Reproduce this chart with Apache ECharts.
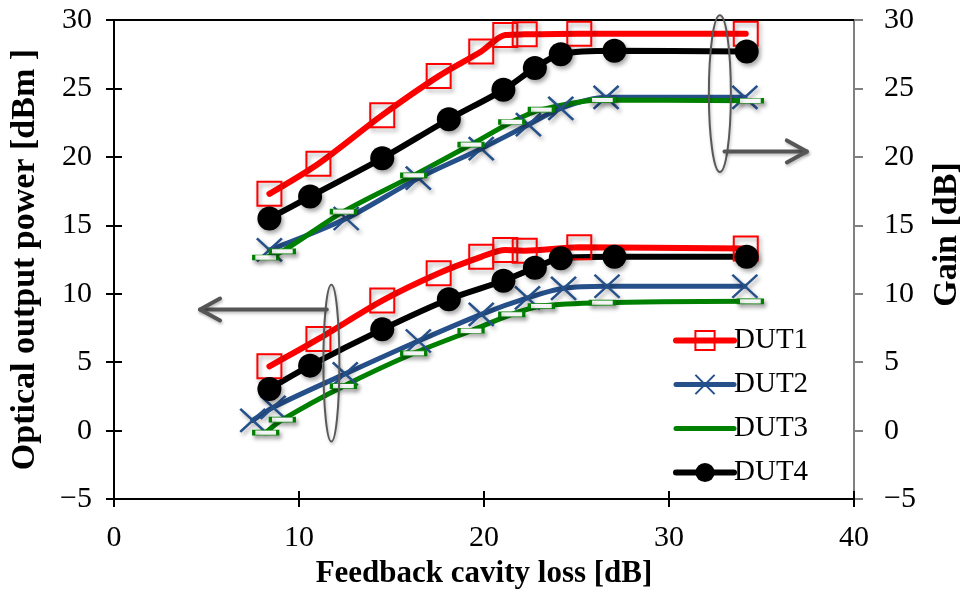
<!DOCTYPE html>
<html>
<head>
<meta charset="utf-8">
<script src="https://cdn.jsdelivr.net/npm/echarts@6/dist/echarts.min.js"></script>
<style>
  html, body { margin: 0; padding: 0; background: #ffffff; }
  #chart { width: 972px; height: 594px; }
</style>
</head>
<body>
<div id="chart"></div>
<script>
// Feedback cavity loss [dB] of each measurement, per device
const lossDUT1 = [8.4, 11.05, 14.5, 17.55, 19.85, 21.15, 22.2, 25.15, 34.15];
const lossDUT2Gain = [8.4, 12.55, 16.45, 19.85, 22.4, 24.15, 26.6, 34.1];
const lossDUT2Power = [7.5, 8.6, 12.5, 16.45, 19.85, 22.35, 24.3, 26.65, 34.1];
const lossDUT3 = [8.2, 9.1, 12.4, 16.2, 19.3, 21.5, 23.1, 26.4, 34.4];
const lossDUT4 = [8.4, 10.6, 14.5, 18.1, 21.05, 22.75, 24.15, 27.05, 34.2];

// Gain [dB], read on the right axis
const gainDUT1 = [17.3, 19.5, 23.05, 25.9, 27.7, 28.9, 28.95, 29.0, 29.0];
const gainDUT2 = [13.2, 15.5, 18.45, 20.6, 22.35, 23.55, 24.35, 24.35];
const gainDUT3 = [12.65, 13.1, 16.0, 18.65, 20.9, 22.55, 23.45, 24.15, 24.1];
const gainDUT4 = [15.5, 17.1, 19.9, 22.75, 24.9, 26.5, 27.5, 27.75, 27.7];

// Optical output power [dBm], read on the left axis
const powerDUT1 = [4.7, 6.7, 9.5, 11.5, 12.7, 13.2, 13.15, 13.4, 13.3];
const powerDUT2 = [0.75, 1.7, 4.15, 6.55, 8.5, 9.7, 10.4, 10.55, 10.55];
const powerDUT3 = [-0.15, 0.8, 3.25, 5.65, 7.3, 8.5, 9.1, 9.35, 9.45];
const powerDUT4 = [3.05, 4.75, 7.4, 9.6, 10.95, 11.9, 12.6, 12.7, 12.7];

const deviceNames = ['DUT1', 'DUT2', 'DUT3', 'DUT4'];

// Axis ranges
const xMin = 0, xMax = 40, xStep = 10;
const yMin = -5, yMax = 30, yStep = 5;

const SERIF = '"Liberation Serif", "Times New Roman", serif';
const pair = (xs, ys) => xs.map((x, i) => [x, ys[i]]);
const minusSign = v => String(v).replace('-', '\u2212');

const markerShadow = {
  shadowColor: 'rgba(0,0,0,0.35)', shadowBlur: 4, shadowOffsetX: 2, shadowOffsetY: 3
};

const looks = {
  DUT1: {
    color: '#FF0000', width: 6, symbol: 'rect', symbolSize: [24, 24],
    item: { color: 'rgba(255,255,255,0)', borderColor: '#FF0000', borderWidth: 2 }
  },
  DUT2: {
    color: '#25508A', width: 5, symbol: 'path://M0,0L24,22M24,0L0,22', symbolSize: [25, 23],
    item: { color: 'rgba(255,255,255,0)', borderColor: '#25508A', borderWidth: 2.5 }
  },
  DUT3: {
    color: '#008000', width: 5, symbol: 'rect', symbolSize: [24, 5],
    item: { color: '#ffffff', borderColor: '#008000', borderWidth: 1.5 }
  },
  DUT4: {
    color: '#000000', width: 6, symbol: 'circle', symbolSize: 24,
    item: { color: '#000000', borderWidth: 0 }
  }
};

function makeSeries(name, data, yAxisIndex) {
  const l = looks[name];
  return {
    name: name,
    type: 'line',
    xAxisIndex: 0,
    yAxisIndex: yAxisIndex,
    data: data,
    smooth: 0.3,
    color: l.color,
    symbol: l.symbol,
    symbolSize: l.symbolSize,
    showAllSymbol: true,
    lineStyle: { color: l.color, width: l.width, cap: 'round' },
    itemStyle: Object.assign({}, l.item, markerShadow),
    emphasis: { disabled: true },
    z: 3
  };
}

const series = [
  makeSeries('DUT1', pair(lossDUT1, gainDUT1), 1),
  makeSeries('DUT1', pair(lossDUT1, powerDUT1), 0),
  makeSeries('DUT2', pair(lossDUT2Gain, gainDUT2), 1),
  makeSeries('DUT2', pair(lossDUT2Power, powerDUT2), 0),
  makeSeries('DUT3', pair(lossDUT3, gainDUT3), 1),
  makeSeries('DUT3', pair(lossDUT3, powerDUT3), 0),
  makeSeries('DUT4', pair(lossDUT4, gainDUT4), 1),
  makeSeries('DUT4', pair(lossDUT4, powerDUT4), 0)
];

const labelStyle = { color: '#000', fontFamily: SERIF, fontSize: 30 };
const yTitleStyle = { color: '#000', fontFamily: SERIF, fontSize: 34, fontWeight: 'bold' };
const xTitleStyle = { color: '#000', fontFamily: SERIF, fontSize: 31, fontWeight: 'bold' };

const chart = echarts.init(document.getElementById('chart'), null, { renderer: 'canvas' });

chart.setOption({
  animation: false,
  backgroundColor: '#ffffff',
  grid: { left: 111, right: 111, top: 20, bottom: 91, containLabel: false },
  legend: {
    orient: 'vertical',
    left: 673,
    top: 326,
    itemWidth: 58,
    itemHeight: 24,
    itemGap: 15,
    padding: 0,
    selectedMode: false,
    lineStyle: { width: 'inherit' },
    textStyle: { color: '#000', fontFamily: SERIF, fontSize: 29, padding: [0, 0, 0, -5] },
    data: [
      { name: 'DUT1' },
      { name: 'DUT2' },
      { name: 'DUT3', itemStyle: { opacity: 0 } },
      { name: 'DUT4' }
    ]
  },
  xAxis: [
    {
      type: 'value', position: 'bottom', min: xMin, max: xMax, interval: xStep,
      name: 'Feedback cavity loss [dB]', nameLocation: 'middle', nameGap: 58,
      nameTextStyle: xTitleStyle,
      axisLine: { onZero: false, lineStyle: { color: '#000', width: 2 } },
      axisTick: { show: true, inside: false, length: 8, lineStyle: { color: '#000', width: 2 } },
      axisLabel: Object.assign({ margin: 24, formatter: minusSign }, labelStyle),
      splitLine: { show: false }
    },
    {
      type: 'value', position: 'bottom', min: xMin, max: xMax, interval: xStep,
      axisLine: { show: false, onZero: false },
      axisTick: { show: true, inside: true, length: 8, lineStyle: { color: '#000', width: 2 } },
      axisLabel: { show: false },
      splitLine: { show: false }
    },
    {
      type: 'value', position: 'top', min: xMin, max: xMax, interval: xStep,
      axisLine: { show: true, onZero: false, lineStyle: { color: '#000', width: 2 } },
      axisTick: { show: false },
      axisLabel: { show: false },
      splitLine: { show: false }
    }
  ],
  yAxis: [
    {
      type: 'value', position: 'left', min: yMin, max: yMax, interval: yStep,
      name: 'Optical output power [dBm ]', nameLocation: 'middle', nameGap: 72, nameRotate: 90,
      nameTextStyle: yTitleStyle,
      axisLine: { show: true, onZero: false, lineStyle: { color: '#000', width: 2 } },
      axisTick: { show: true, inside: false, length: 8, lineStyle: { color: '#000', width: 2 } },
      axisLabel: Object.assign({ margin: 22, formatter: minusSign }, labelStyle),
      splitLine: { show: false }
    },
    {
      type: 'value', position: 'right', min: yMin, max: yMax, interval: yStep,
      name: 'Gain [dB]', nameLocation: 'middle', nameGap: 76, nameRotate: 90,
      nameTextStyle: Object.assign({ padding: [0, 0, 0, 50] }, yTitleStyle),
      axisLine: { show: true, onZero: false, lineStyle: { color: '#808080', width: 2 } },
      axisTick: { show: true, inside: false, length: 9, lineStyle: { color: '#808080', width: 2 } },
      axisLabel: Object.assign({ margin: 30, formatter: minusSign }, labelStyle),
      splitLine: { show: false }
    },
    {
      type: 'value', position: 'left', min: yMin, max: yMax, interval: yStep,
      axisLine: { show: false, onZero: false },
      axisTick: { show: true, inside: true, length: 8, lineStyle: { color: '#000', width: 2 } },
      axisLabel: { show: false },
      splitLine: { show: false }
    }
  ],
  series: series
});

// Ellipses grouping each family of curves, with arrows pointing at the axis they belong to
const leftGroupMark = { x: 11.75, yLow: -0.8, yHigh: 10.65, rx: 8 };
const leftArrow = { y: 8.85, xFrom: 11.5, xTo: 4.65 };
const rightGroupMark = { x: 32.75, yLow: 18.9, yHigh: 30.35, rx: 11 };
const rightArrow = { y: 20.4, xFrom: 33.0, xTo: 37.45 };

function toPx(x, y) {
  return chart.convertToPixel({ xAxisIndex: 0, yAxisIndex: 0 }, [x, y]);
}

function ellipseFor(m) {
  const top = toPx(m.x, m.yHigh);
  const bottom = toPx(m.x, m.yLow);
  return {
    type: 'ellipse',
    shape: { cx: top[0], cy: (top[1] + bottom[1]) / 2, rx: m.rx, ry: (bottom[1] - top[1]) / 2 },
    style: { fill: null, stroke: '#595959', lineWidth: 2,
             shadowColor: 'rgba(0,0,0,0.25)', shadowBlur: 3, shadowOffsetX: 1, shadowOffsetY: 2 },
    z: 20
  };
}

function arrowFor(a) {
  const p0 = toPx(a.xFrom, a.y);
  const p1 = toPx(a.xTo, a.y);
  const dir = Math.sign(p1[0] - p0[0]);
  const common = { stroke: '#555555', lineWidth: 4, lineCap: 'round', lineJoin: 'round',
                   shadowColor: 'rgba(0,0,0,0.25)', shadowBlur: 3, shadowOffsetX: 1, shadowOffsetY: 2 };
  return [
    { type: 'line', shape: { x1: p0[0], y1: p0[1], x2: p1[0], y2: p1[1] }, style: common, z: 20 },
    {
      type: 'polyline',
      shape: { points: [[p1[0] - dir * 20, p1[1] - 11], [p1[0], p1[1]], [p1[0] - dir * 20, p1[1] + 11]] },
      style: Object.assign({ fill: null }, common), z: 20
    }
  ];
}

chart.setOption({
  graphic: [ellipseFor(leftGroupMark), ellipseFor(rightGroupMark)]
    .concat(arrowFor(leftArrow), arrowFor(rightArrow))
});
</script>
</body>
</html>
